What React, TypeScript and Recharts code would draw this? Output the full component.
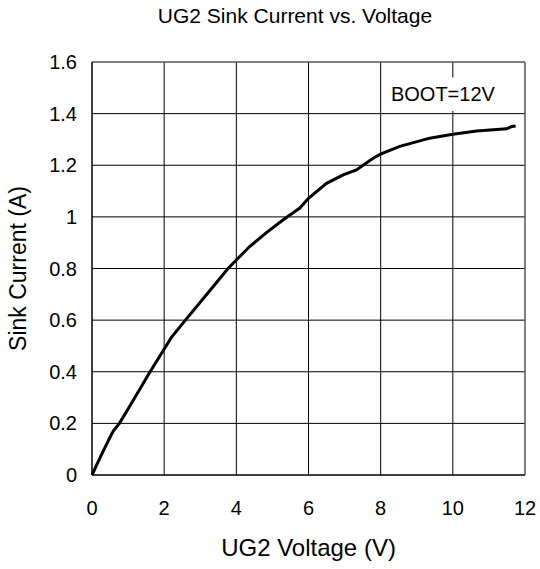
import React from 'react';
import {
  LineChart,
  Line,
  XAxis,
  YAxis,
  CartesianGrid,
  ReferenceArea,
  ReferenceLine,
} from 'recharts';

// UG2 voltage (V) vs sink current (A)
const voltage = [0, 0.25, 0.53, 0.6, 0.76, 1.0, 1.61, 2.01, 2.2, 2.59, 3.2, 3.77, 4.0, 4.37, 4.8, 5.29, 5.76, 6.0, 6.5, 6.96, 7.33, 7.79, 8.01, 8.53, 9.36, 10.0, 10.66, 11.49, 11.63, 11.74];
const current = [0, 0.075, 0.155, 0.172, 0.2, 0.256, 0.4, 0.49, 0.533, 0.6, 0.703, 0.8, 0.833, 0.885, 0.935, 0.988, 1.034, 1.072, 1.13, 1.163, 1.182, 1.227, 1.244, 1.273, 1.305, 1.32, 1.333, 1.341, 1.35, 1.352];

const xTicks = [0, 2, 4, 6, 8, 10, 12];
const yTicks = [0, 0.2, 0.4, 0.6, 0.8, 1, 1.2, 1.4, 1.6];

const data = voltage.map((v, i) => ({ v, i: current[i] }));

const font = '"Liberation Sans", Arial, sans-serif';

const App: React.FC = () => {
  return (
    <div style={{ position: 'absolute', left: 0, top: 0, width: 540, height: 569, background: '#fff', fontFamily: font }}>
      <div style={{ position: 'absolute', left: 0, top: 4, width: 590, textAlign: 'center', fontSize: 21, color: '#000' }}>
        UG2 Sink Current vs. Voltage
      </div>
      <LineChart width={540} height={569} data={data} margin={{ top: 62, right: 15, left: 0, bottom: 0 }}>
        <CartesianGrid stroke="#000" strokeWidth={1} />
        <XAxis
          dataKey="v"
          type="number"
          domain={[0, 12]}
          ticks={xTicks}
          height={94}
          tickLine={false}
          axisLine={{ stroke: '#000' }}
          tickSize={12}
          tickMargin={14}
          tick={{ fontSize: 20, fill: '#000', fontFamily: font }}
          label={{ value: 'UG2 Voltage (V)', position: 'insideBottom', offset: 13, fontSize: 24, fill: '#000', fontFamily: font }}
        />
        <YAxis
          type="number"
          domain={[0, 1.6]}
          ticks={yTicks}
          width={92}
          tickLine={false}
          axisLine={{ stroke: '#000' }}
          tickSize={8}
          tickMargin={7}
          tick={{ fontSize: 20, fill: '#000', fontFamily: font }}
          label={{ value: 'Sink Current (A)', angle: -90, position: 'insideLeft', offset: 18, fontSize: 23, fill: '#000', fontFamily: font, style: { textAnchor: 'middle' } }}
        />
        <ReferenceLine y={1.6} stroke="#808080" />
        <ReferenceLine x={12} stroke="#808080" />
        <ReferenceArea
          x1={8.1}
          x2={11.35}
          y1={1.41}
          y2={1.54}
          fill="#fff"
          fillOpacity={1}
          stroke="none"
          label={{ value: 'BOOT=12V', position: 'center', fontSize: 20, fill: '#000', fontFamily: font }}
        />
        <Line
          type="linear"
          dataKey="i"
          stroke="#000"
          strokeWidth={3}
          dot={false}
          isAnimationActive={false}
        />
      </LineChart>
    </div>
  );
};

export default App;
